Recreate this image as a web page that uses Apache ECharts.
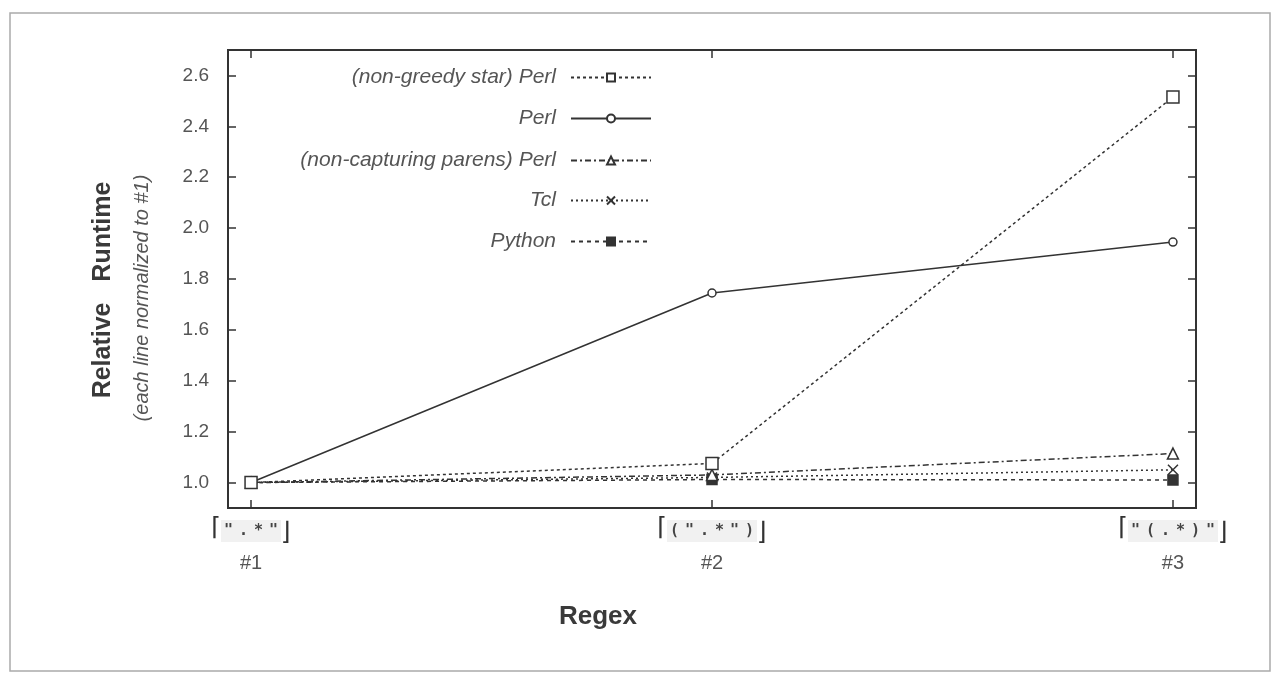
<!DOCTYPE html>
<html>
<head>
<meta charset="utf-8">
<script src="https://cdn.jsdelivr.net/npm/echarts@6/dist/echarts.min.js"></script>
<style>
html,body{margin:0;padding:0;background:#fff;}
#chart{width:1273px;height:674px;}
</style>
</head>
<body>
<div id="chart"></div>
<script>
// ---- data ----
const xPositions = [1, 2, 3];
const regexLabels = ['".*"', '(".*")', '"(.*)"'];
const numLabels = ['#1', '#2', '#3'];
const seriesNames = ['(non-greedy star) Perl', 'Perl', '(non-capturing parens) Perl', 'Tcl', 'Python'];
const nonGreedyPerl = [1.0, 1.075, 2.515];
const perl = [1.0, 1.745, 1.945];
const nonCapturingPerl = [1.0, 1.03, 1.114];
const tcl = [1.0, 1.02, 1.05];
const python = [1.0, 1.012, 1.01];
const yTicks = [1.0, 1.2, 1.4, 1.6, 1.8, 2.0, 2.2, 2.4, 2.6];

const FONT = "'Liberation Sans Narrow', 'Liberation Sans', Arial, sans-serif";
const INK = '#333';
const TXT = '#555';

function pairs(vals) { return xPositions.map((x, i) => [x, vals[i]]); }

const styles = [
  { data: nonGreedyPerl, dash: [3, 3], symbol: 'rect', size: 12, fill: '#fff' },
  { data: perl, dash: 'solid', symbol: 'circle', size: 8, fill: '#fff' },
  { data: nonCapturingPerl, dash: [6, 3, 2, 3], symbol: 'triangle', size: 11, fill: '#fff' },
  { data: tcl, dash: [2, 3], symbol: 'path://M0,0L10,10M10,0L0,10', size: 10, fill: 'none' },
  { data: python, dash: [4, 4], symbol: 'rect', size: 10, fill: INK }
];

const series = styles.map((s, i) => ({
  name: seriesNames[i],
  type: 'line',
  xAxisIndex: 0,
  yAxisIndex: 0,
  data: pairs(s.data),
  symbol: s.symbol,
  symbolSize: s.size,
  showAllSymbol: true,
  lineStyle: { color: INK, width: 1.5, type: s.dash },
  itemStyle: { color: s.fill, borderColor: INK, borderWidth: 1.5 },
  emphasis: { disabled: true },
  z: 10 - i
}));

const legendRowsY = [77, 118, 160, 200, 241];
const legends = seriesNames.map((n, i) => ({
  data: [n],
  right: 621,
  top: legendRowsY[i] - 10,
  orient: 'vertical',
  align: 'right',
  padding: 0,
  itemWidth: 80,
  itemHeight: 10,
  selectedMode: false,
  textStyle: { fontFamily: FONT, fontStyle: 'italic', fontSize: 21, color: TXT, padding: [0, 10, 0, 0] }
}));

function regexRich(idx) {
  const chars = regexLabels[idx].split('').map(c => '{c|' + c + '}').join('');
  return '{l|\u2308}' + chars + '{r|\u230B}\n{n|' + numLabels[idx] + '}';
}

const chart = echarts.init(document.getElementById('chart'), null, { renderer: 'canvas' });
chart.setOption({
  animation: false,
  backgroundColor: '#fff',
  grid: { left: 228, top: 50, right: 77, bottom: 166, show: true, borderColor: INK, borderWidth: 2, backgroundColor: 'transparent' },
  legend: legends,
  xAxis: [
    {
      type: 'value', min: 0.95, max: 3.05, position: 'bottom',
      axisLine: { show: false },
      splitLine: { show: false },
      axisTick: { show: true, inside: true, length: 8, lineStyle: { color: INK, width: 1.5 }, customValues: xPositions },
      axisLabel: {
        show: true, margin: 8, customValues: xPositions,
        formatter: v => regexRich(Math.round(v) - 1),
        rich: {
          l: { fontFamily: 'DejaVu Sans', fontSize: 25, color: INK, lineHeight: 30, verticalAlign: 'top' },
          r: { fontFamily: 'DejaVu Sans', fontSize: 25, color: INK, lineHeight: 30, verticalAlign: 'bottom' },
          c: { fontFamily: "'DejaVu Sans Mono', monospace", fontWeight: 'bold', fontSize: 15, color: '#444', width: 15, align: 'center', backgroundColor: '#f1f1f1', lineHeight: 30, height: 22 },
          n: { fontFamily: FONT, fontSize: 20, color: TXT, lineHeight: 34 }
        }
      }
    },
    {
      type: 'value', min: 0.95, max: 3.05, position: 'top',
      axisLine: { show: false }, splitLine: { show: false },
      axisTick: { show: true, inside: true, length: 8, lineStyle: { color: INK, width: 1.5 }, customValues: xPositions },
      axisLabel: { show: false }
    }
  ],
  yAxis: [
    {
      type: 'value', min: 0.9, max: 2.7, position: 'left',
      axisLine: { show: false }, splitLine: { show: false },
      axisTick: { show: true, inside: true, length: 8, lineStyle: { color: INK, width: 1.5 }, customValues: yTicks },
      axisLabel: { show: true, margin: 19, customValues: yTicks, formatter: v => v.toFixed(1), fontFamily: FONT, fontSize: 19, color: TXT }
    },
    {
      type: 'value', min: 0.9, max: 2.7, position: 'right',
      axisLine: { show: false }, splitLine: { show: false },
      axisTick: { show: true, inside: true, length: 8, lineStyle: { color: INK, width: 1.5 }, customValues: yTicks },
      axisLabel: { show: false }
    }
  ],
  graphic: [
    { type: 'rect', shape: { x: 10, y: 13, width: 1260, height: 658 }, style: { fill: 'none', stroke: '#aaa', lineWidth: 1.5 }, silent: true },
    { type: 'text', x: 103, y: 290, rotation: Math.PI / 2, style: { text: 'Relative   Runtime', fontFamily: FONT, fontWeight: 'bold', fontSize: 25, fill: '#3a3a3a', align: 'center', verticalAlign: 'middle' } },
    { type: 'text', x: 142, y: 298, rotation: Math.PI / 2, style: { text: '(each line normalized to #1)', fontFamily: FONT, fontStyle: 'italic', fontSize: 20, fill: TXT, align: 'center', verticalAlign: 'middle' } },
    { type: 'text', x: 598, y: 617, style: { text: 'Regex', fontFamily: FONT, fontWeight: 'bold', fontSize: 26, fill: '#3a3a3a', align: 'center', verticalAlign: 'middle' } }
  ],
  series: series
});
</script>
</body>
</html>
